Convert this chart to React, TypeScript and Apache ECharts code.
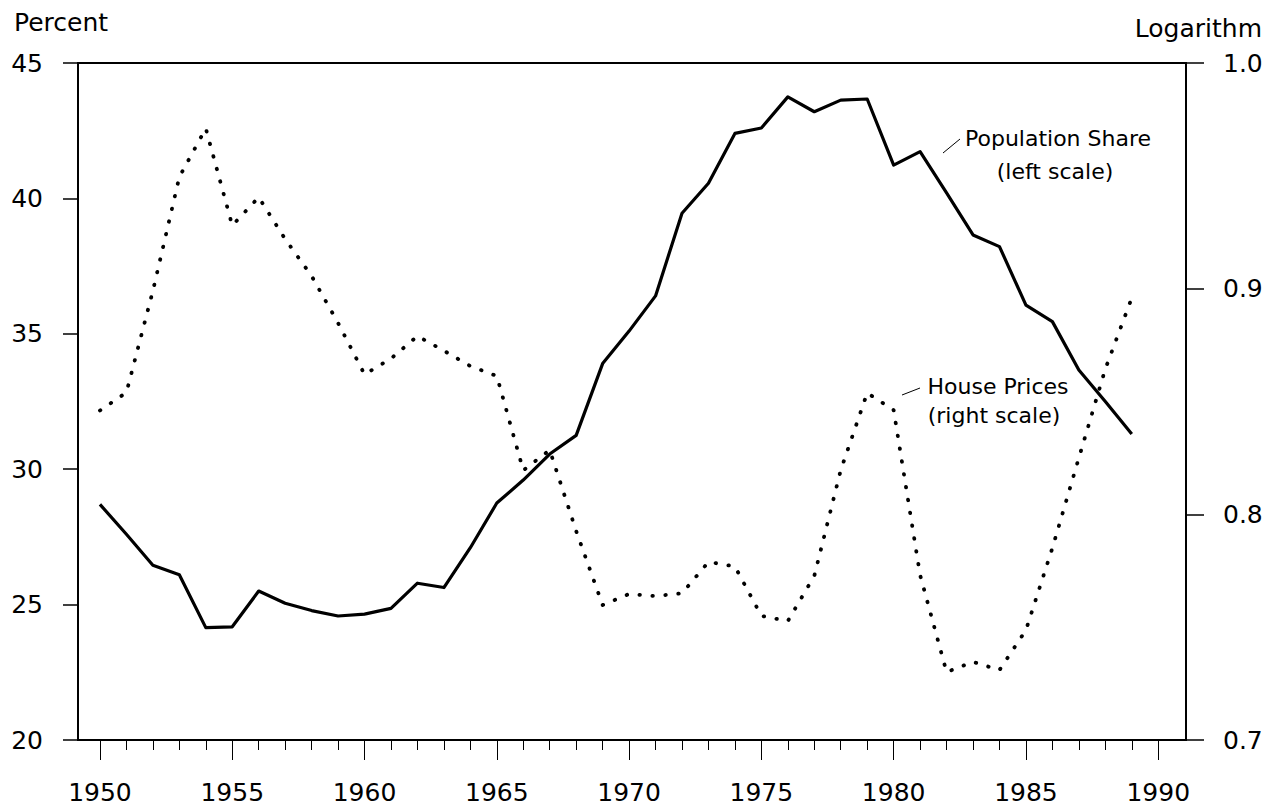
import React, { useEffect, useRef } from "react";
import * as echarts from "echarts";

const years: number[] = [];
for (let y = 1950; y <= 1989; y++) years.push(y);

// Population share (left scale, percent)
const populationShare = [
  28.7, 27.6, 26.45, 26.1, 24.15, 24.18, 25.5, 25.05, 24.78, 24.58,
  24.65, 24.86, 25.79, 25.63, 27.1, 28.75, 29.6, 30.56, 31.25, 33.9,
  35.1, 36.4, 39.45, 40.56, 42.4, 42.6, 43.75, 43.2, 43.63, 43.67,
  41.23, 41.73, 40.2, 38.65, 38.22, 36.06, 35.45, 33.66, 32.5, 31.3,
];

// House prices (right scale, logarithm)
const housePrices = [
  0.846, 0.854, 0.899, 0.9495, 0.971, 0.928, 0.9405, 0.922, 0.9056, 0.8848,
  0.862, 0.869, 0.879, 0.8725, 0.8657, 0.8613, 0.8195, 0.8285, 0.7926, 0.7598,
  0.7647, 0.7638, 0.765, 0.7789, 0.7769, 0.755, 0.7527, 0.7727, 0.8196, 0.8538,
  0.8462, 0.7731, 0.7301, 0.7346, 0.731, 0.7487, 0.7851, 0.825, 0.8644, 0.8959,
];

const xLabelYears = [1950, 1955, 1960, 1965, 1970, 1975, 1980, 1985, 1990];
const xMinorYears: number[] = [];
for (let y = 1950; y <= 1990; y++) xMinorYears.push(y);

const FONT = "DejaVu Sans";

export default function App() {
  const ref = useRef<HTMLDivElement>(null);

  useEffect(() => {
    if (!ref.current) return;
    const chart = echarts.init(ref.current, undefined, { renderer: "svg" });
    const xMin = 1949.17;
    const xMax = 1991.05;
    chart.setOption({
      animation: false,
      backgroundColor: "#ffffff",
      grid: {
        left: 78,
        right: 90,
        top: 63,
        bottom: 69,
        show: true,
        borderColor: "#000",
        borderWidth: 2,
        backgroundColor: "transparent",
      },
      xAxis: [
        {
          type: "value",
          min: xMin,
          max: xMax,
          position: "bottom",
          axisLine: { show: true, lineStyle: { color: "#000", width: 2 } },
          axisTick: {
            show: true,
            customValues: xMinorYears,
            length: 10,
            lineStyle: { color: "#000", width: 1 },
          },
          axisLabel: {
            show: true,
            customValues: xLabelYears,
            margin: 40,
            color: "#000",
            fontFamily: FONT,
            fontSize: 25,
            lineHeight: 25,
            formatter: (v: number) => String(Math.round(v)),
          },
          splitLine: { show: false },
        },
        {
          type: "value",
          min: xMin,
          max: xMax,
          position: "bottom",
          offset: 0,
          axisLine: { show: false },
          axisTick: {
            show: true,
            customValues: xLabelYears,
            length: 20,
            lineStyle: { color: "#000", width: 1 },
          },
          axisLabel: { show: false },
          splitLine: { show: false },
        },
      ],
      yAxis: [
        {
          type: "value",
          min: 20,
          max: 45,
          interval: 5,
          position: "left",
          axisLine: { show: true, lineStyle: { color: "#000", width: 2 } },
          axisTick: { show: true, length: 15, lineStyle: { color: "#000", width: 1.5 } },
          axisLabel: {
            margin: 35,
            color: "#000",
            fontFamily: FONT,
            fontSize: 25,
          },
          splitLine: { show: false },
        },
        {
          type: "value",
          min: 0.7,
          max: 1.0,
          interval: 0.1,
          position: "right",
          axisLine: { show: true, lineStyle: { color: "#000", width: 2 } },
          axisTick: { show: true, length: 18, lineStyle: { color: "#000", width: 1.5 } },
          axisLabel: {
            margin: 37,
            color: "#000",
            fontFamily: FONT,
            fontSize: 25,
            formatter: (v: number) => v.toFixed(1),
          },
          splitLine: { show: false },
        },
      ],
      series: [
        {
          name: "Population Share",
          type: "line",
          xAxisIndex: 0,
          yAxisIndex: 0,
          data: years.map((y, i) => [y, populationShare[i]]),
          showSymbol: false,
          symbol: "none",
          lineStyle: { color: "#000", width: 3.2, join: "round" },
          z: 3,
        },
        {
          name: "House Prices",
          type: "line",
          xAxisIndex: 0,
          yAxisIndex: 1,
          data: years.map((y, i) => [y, housePrices[i]]),
          showSymbol: false,
          symbol: "none",
          lineStyle: {
            color: "#000",
            width: 3.8,
            type: [0.5, 12.5],
            cap: "round",
          },
          z: 2,
        },
      ],
      graphic: [
        {
          type: "text",
          left: 14,
          top: 10,
          style: { text: "Percent", fill: "#000", font: `25px "${FONT}"` },
        },
        {
          type: "text",
          right: 14,
          top: 16,
          style: { text: "Logarithm", fill: "#000", font: `25px "${FONT}"` },
        },
        {
          type: "text",
          x: 1058,
          y: 138,
          style: {
            text: "Population Share",
            fill: "#000",
            font: `22px "${FONT}"`,
            align: "center",
            verticalAlign: "middle",
          },
        },
        {
          type: "text",
          x: 1055,
          y: 171,
          style: {
            text: "(left scale)",
            fill: "#000",
            font: `22px "${FONT}"`,
            align: "center",
            verticalAlign: "middle",
          },
        },
        {
          type: "text",
          x: 998,
          y: 386,
          style: {
            text: "House Prices",
            fill: "#000",
            font: `22px "${FONT}"`,
            align: "center",
            verticalAlign: "middle",
          },
        },
        {
          type: "text",
          x: 994,
          y: 415,
          style: {
            text: "(right scale)",
            fill: "#000",
            font: `22px "${FONT}"`,
            align: "center",
            verticalAlign: "middle",
          },
        },
        {
          type: "line",
          shape: { x1: 943, y1: 153, x2: 960, y2: 139 },
          style: { stroke: "#000", lineWidth: 1 },
        },
        {
          type: "line",
          shape: { x1: 902, y1: 395, x2: 920, y2: 388 },
          style: { stroke: "#000", lineWidth: 1 },
        },
      ],
    });
    return () => chart.dispose();
  }, []);

  return (
    <div
      ref={ref}
      style={{ position: "fixed", left: 0, top: 0, width: 1276, height: 809, background: "#fff" }}
    />
  );
}
